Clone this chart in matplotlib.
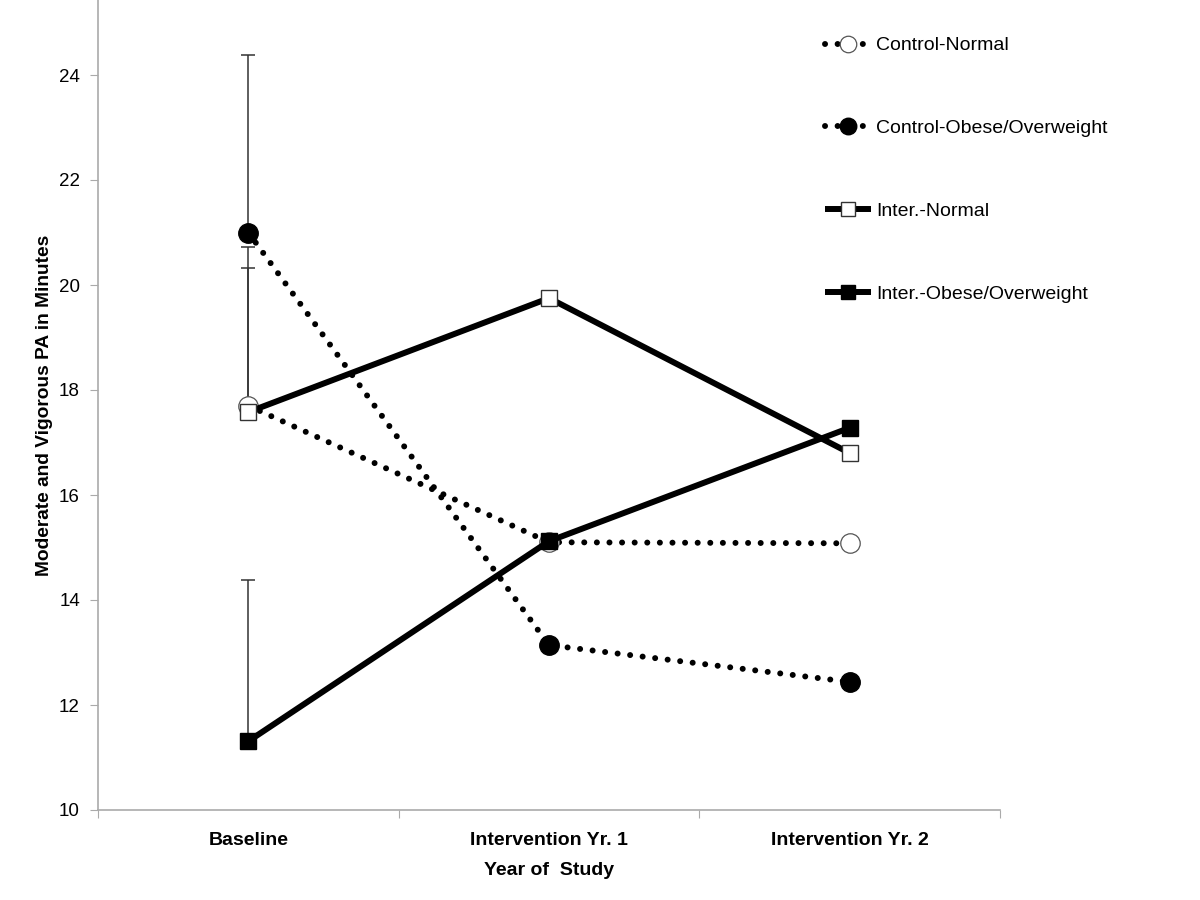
import numpy as np
import matplotlib
matplotlib.use("Agg")
import matplotlib.pyplot as plt

plt.rcParams['font.family'] = ['Liberation Sans', 'DejaVu Sans']

# data
years = ["Baseline", "Intervention Yr. 1", "Intervention Yr. 2"]
control_normal = [17.7, 15.1, 15.08]
control_obese = [21.0, 13.14, 12.44]
inter_normal = [17.58, 19.75, 16.8]
inter_obese = [11.31, 15.12, 17.28]

# upper error bars (baseline only)
err_control_normal = [3.02, 0, 0]
err_control_obese = [3.38, 0, 0]
err_inter_normal = [2.74, 0, 0]
err_inter_obese = [3.07, 0, 0]

x = np.arange(len(years)) + 0.5

fig = plt.figure(figsize=(12, 9), dpi=100)
ax = fig.add_axes([98/1200, 1 - 810/900, (1000-98)/1200, 810/900])

dot = (0, (0.01, 2.1))
ecol = '#333333'

def draw(vals, errs, ls, marker, mfc, ms, lw, label, z, mec='black', mew=1.0):
    e = np.array(errs)
    mask = e > 0
    ax.errorbar(x[mask], np.array(vals)[mask], yerr=[np.zeros(mask.sum()), e[mask]],
                fmt='none', ecolor=ecol, elinewidth=1.1, capsize=5, capthick=1.1, zorder=1)
    ln, = ax.plot(x, vals, linestyle=ls, color='black', linewidth=lw, marker=marker,
                  markerfacecolor=mfc, markeredgecolor=mec, markeredgewidth=mew,
                  markersize=ms, dash_capstyle='round', solid_capstyle='butt',
                  label=label, zorder=z)
    return ln

h1 = draw(control_normal, err_control_normal, dot, 'o', 'white', 14, 4.3,
          'Control-Normal', 3, mec='#555555', mew=0.9)
h2 = draw(control_obese, err_control_obese, dot, 'o', 'black', 14, 4.3,
          'Control-Obese/Overweight', 3)
h3 = draw(inter_normal, err_inter_normal, '-', 's', 'white', 12, 4.3,
          'Inter.-Normal', 4, mec='#333333', mew=1.0)
h4 = draw(inter_obese, err_inter_obese, '-', 's', 'black', 12, 4.3,
          'Inter.-Obese/Overweight', 4)

ax.set_xlim(0, 3)
ax.set_ylim(10, 10 + 810/52.5)
ax.set_yticks(np.arange(10, 25, 2))
ax.set_xticks([0, 1, 2, 3])
ax.set_xticklabels([])
ax.set_xticks(x, minor=True)
ax.set_xticklabels(years, minor=True, fontsize=14, fontweight='bold')
ax.tick_params(axis='x', which='minor', length=0, pad=16)
ax.tick_params(axis='x', which='major', length=6, color='#aaaaaa', direction='out')
ax.tick_params(axis='y', length=6, color='#aaaaaa', labelsize=13.5, pad=7)

for s in ['top', 'right']:
    ax.spines[s].set_visible(False)
for s in ['left', 'bottom']:
    ax.spines[s].set_color('#aaaaaa')
    ax.spines[s].set_linewidth(1.2)

ax.set_xlabel("Year of  Study", fontsize=14, fontweight='bold', labelpad=9)
ax.set_ylabel("Moderate and Vigorous PA in Minutes", fontsize=13.8, fontweight='bold', labelpad=4)

leg = ax.legend(handles=[h1, h2, h3, h4], loc='upper left',
                bbox_to_anchor=(815/1200, 1 - 27/900), bbox_transform=fig.transFigure,
                frameon=False, fontsize=14, handlelength=2.4, handletextpad=0.25,
                labelspacing=3.35, borderpad=0, markerscale=0.85)

fig.savefig("out.png", dpi=100)
